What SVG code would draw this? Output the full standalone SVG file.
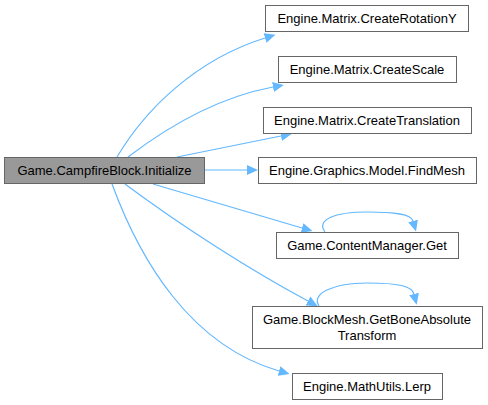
<svg xmlns="http://www.w3.org/2000/svg" width="488" height="405" viewBox="0 0 488 405">
<defs>
<style>
.n rect{fill:#fff;stroke:#666;stroke-width:1}
.n.m rect{fill:#999}
.n text{font-family:"Liberation Sans",Arial,sans-serif;font-size:13px;fill:#000;text-anchor:middle}
.e path{fill:none;stroke:#63b8ff;stroke-width:1.2;marker-end:url(#ah)}
</style>
<marker id="ah" markerUnits="userSpaceOnUse" markerWidth="12" markerHeight="11" refX="0" refY="5" orient="auto" viewBox="0 0 12 10">
<path d="M0,0 L11,5 L0,10 z" fill="#63b8ff"/>
</marker>
</defs>
<rect width="488" height="405" fill="#fff"/>
<g id="edges" class="e">
<path d="M117,157 C145,110 195,60 265,38"/>
<path d="M128,157 C170,125 220,97 273,87"/>
<path d="M177,157 L281,136"/>
<path d="M204,170 L247,170"/>
<path d="M153,184 L302,228"/>
<path d="M325,232 C316,220 334,212 367,212 C395,212 411,214 413,221"/>
<path d="M125,184 C180,225 250,270 308,301"/>
<path d="M319,306 C311,294 332,283 367,283 C398,283 412,286 414,294"/>
<path d="M112,184 C140,260 190,345 279,371"/>
</g>
<g id="main" class="n m"><rect x="4.5" y="157.5" width="200" height="26"/><text x="104.5" y="175">Game.CampfireBlock.Initialize</text></g>
<g id="rotY" class="n"><rect x="265.5" y="5.5" width="203" height="26"/><text x="367" y="23">Engine.Matrix.CreateRotationY</text></g>
<g id="scale" class="n"><rect x="278.5" y="56.5" width="178" height="26"/><text x="367" y="74">Engine.Matrix.CreateScale</text></g>
<g id="trans" class="n"><rect x="263.5" y="107.5" width="208" height="26"/><text x="367" y="125">Engine.Matrix.CreateTranslation</text></g>
<g id="findmesh" class="n"><rect x="258.5" y="157.5" width="218" height="26"/><text x="367" y="175">Engine.Graphics.Model.FindMesh</text></g>
<g id="get" class="n"><rect x="276.5" y="232.5" width="182" height="26"/><text x="367" y="250">Game.ContentManager.Get</text></g>
<g id="bone" class="n"><rect x="252.5" y="306.5" width="230" height="42"/><text x="367" y="324">Game.BlockMesh.GetBoneAbsolute</text><text x="367" y="340">Transform</text></g>
<g id="lerp" class="n"><rect x="292.5" y="373.5" width="150" height="26"/><text x="367" y="391">Engine.MathUtils.Lerp</text></g>
</svg>
